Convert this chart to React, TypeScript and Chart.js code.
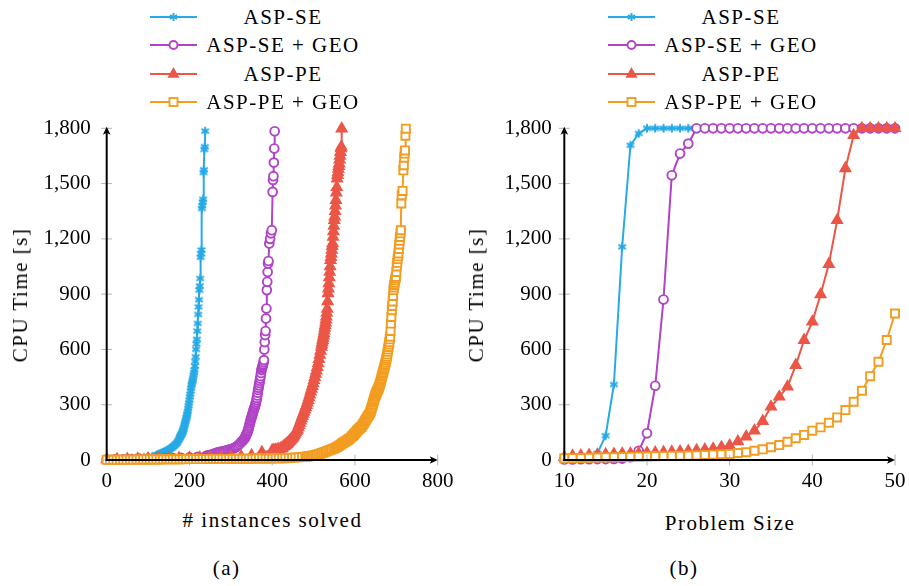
import React, { useEffect, useRef } from 'react';
import { Chart, registerables } from 'chart.js';
Chart.register(...registerables);

// ---------- data ----------
const seriesNames = ['ASP-SE', 'ASP-SE + GEO', 'ASP-PE', 'ASP-PE + GEO'];
const seriesColors = ['#27AAE6', '#B043C6', '#EB5647', '#F29D20'];

const timeTicks = [0, 300, 600, 900, 1200, 1500, 1800];
const rankTicks = [0, 200, 400, 600, 800];
const sizeTicks = [10, 20, 30, 40, 50];

// (a) cactus plot: [instances solved, CPU time]
const cactusSE: [number, number][] = [
  [0, 3], [10, 4], [20, 5], [30, 6], [40, 7], [50, 8], [60, 9], [70, 10], [80, 12], [90, 14], [100, 17], [110, 20],
  [120, 26], [122, 27], [124, 29], [126, 30], [128, 32], [130, 34], [132, 36], [134, 38], [136, 40], [138, 42], [140, 44],
  [142, 47], [144, 49], [146, 51], [148, 54], [150, 56], [152, 59], [154, 62], [156, 65], [158, 68], [160, 72], [162, 76],
  [164, 80], [166, 84], [168, 88], [170, 94], [172, 101], [174, 109], [176, 118], [177, 123], [178, 128], [179, 132],
  [180, 137], [181, 141], [182, 146], [183, 151], [184, 156], [185, 163], [186, 170], [187, 179], [188, 188], [189, 196],
  [190, 205], [191, 214], [192, 224], [193, 233], [194, 243], [195, 253], [196, 265], [197, 280], [198, 295], [199, 310],
  [200, 325], [201, 343], [202, 357], [203, 375], [204, 390], [205, 405], [206, 415], [207, 425], [208, 434], [209, 447],
  [210, 460], [211, 474], [212, 488], [213, 510], [214, 535], [215, 560], [216, 600], [217, 630], [218, 655], [219, 700],
  [220, 741], [221, 790], [222, 831], [223, 870], [224, 922], [225, 945], [226, 985], [227, 1100], [228, 1120],
  [229, 1140], [230, 1365], [231, 1380], [232, 1400], [233, 1415], [234, 1560], [235, 1575], [236, 1685], [237, 1700],
  [238, 1785],
];
const cactusSEGeo: [number, number][] = [
  [0, 2], [20, 3], [40, 4], [60, 5], [80, 6], [100, 7], [120, 8], [140, 9], [160, 10], [180, 12], [200, 14], [220, 17],
  [240, 22], [244, 24], [248, 26], [252, 28], [256, 31], [260, 35], [264, 38], [268, 41], [272, 43], [276, 45], [280, 46],
  [284, 48], [288, 51], [292, 54], [296, 56], [300, 58], [303, 60], [306, 63], [309, 66], [312, 70], [315, 75], [318, 80],
  [321, 87], [324, 95], [327, 101], [330, 108], [331, 111], [332, 114], [333, 117], [334, 120], [335, 125], [336, 130],
  [337, 135], [338, 140], [339, 145], [340, 150], [341, 156], [342, 163], [343, 171], [344, 180], [345, 190], [346, 199],
  [347, 208], [348, 216], [349, 224], [350, 232], [351, 238], [352, 245], [353, 254], [354, 262], [355, 270], [356, 278],
  [357, 284], [358, 289], [359, 297], [360, 305], [361, 315], [362, 325], [363, 337], [364, 350], [365, 365], [366, 380],
  [367, 392], [368, 405], [369, 418], [370, 430], [371, 442], [372, 455], [373, 472], [374, 488], [375, 497], [376, 505],
  [377, 512], [378, 520], [379, 530], [380, 542], [381, 600], [382, 640], [383, 678], [384, 700], [385, 768], [386, 822],
  [387, 922], [388, 967], [389, 1020], [390, 1066], [391, 1080], [393, 1175], [395, 1200], [397, 1230], [399, 1247],
  [401, 1455], [402, 1520], [403, 1540], [404, 1614], [405, 1690], [406, 1784],
];
const cactusPE: [number, number][] = [
  [0, 3], [25, 4], [50, 5], [75, 6], [100, 7], [125, 8], [150, 9], [175, 10], [200, 11], [225, 12], [250, 13], [275, 15],
  [300, 17], [325, 20], [350, 25], [375, 42], [400, 52], [404, 54], [408, 55], [412, 57], [416, 59], [420, 61], [423, 63],
  [425, 67], [427, 72], [429, 75], [431, 78], [433, 82], [435, 86], [437, 90], [439, 95], [441, 100], [443, 105],
  [445, 110], [447, 115], [449, 120], [451, 126], [453, 133], [455, 141], [457, 149], [459, 157], [461, 165], [463, 177],
  [465, 189], [467, 201], [469, 213], [471, 226], [473, 238], [475, 250], [477, 261], [479, 273], [481, 285], [483, 298],
  [485, 311], [487, 325], [489, 340], [491, 355], [493, 370], [495, 385], [497, 400], [499, 416], [501, 433], [503, 450],
  [505, 467], [507, 485], [509, 504], [511, 524], [513, 547], [515, 570], [517, 592], [519, 614], [520, 626], [521, 638],
  [522, 650], [523, 662], [524, 675], [525, 687], [526, 701], [527, 716], [528, 730], [529, 745], [530, 761], [531, 777],
  [532, 798], [533, 820], [534, 860], [535, 904], [536, 930], [537, 958], [538, 990], [539, 1020], [540, 1050],
  [541, 1084], [542, 1100], [543, 1120], [544, 1140], [545, 1160], [546, 1175], [547, 1210], [548, 1240], [549, 1270],
  [550, 1301], [551, 1320], [552, 1350], [553, 1380], [554, 1410], [555, 1450], [556, 1480], [557, 1527], [558, 1545],
  [559, 1560], [560, 1580], [561, 1595], [562, 1608], [563, 1630], [564, 1650], [565, 1670], [566, 1690], [567, 1700],
  [568, 1798],
];
const cactusPEGeo: [number, number][] = [
  [0, 1], [8, 1], [16, 1], [24, 1], [32, 2], [40, 2], [48, 2], [56, 2], [64, 2], [72, 2], [80, 3], [88, 3], [96, 3],
  [104, 3], [112, 3], [120, 3], [128, 3], [136, 4], [144, 4], [152, 4], [160, 4], [168, 4], [176, 4], [184, 4], [192, 5],
  [200, 5], [208, 5], [216, 5], [224, 5], [232, 5], [240, 5], [248, 6], [256, 6], [264, 6], [272, 6], [280, 6], [288, 6],
  [296, 6], [304, 7], [312, 7], [320, 7], [328, 7], [336, 7], [344, 7], [352, 7], [360, 8], [368, 8], [376, 8], [384, 8],
  [392, 8], [400, 8], [408, 9], [416, 9], [424, 10], [432, 10], [440, 11], [448, 12], [456, 13], [464, 15], [472, 16],
  [480, 18], [484, 19], [488, 20], [492, 21], [496, 23], [500, 24], [504, 26], [508, 28], [512, 31], [516, 34], [520, 38],
  [524, 41], [528, 44], [532, 48], [536, 52], [540, 55], [544, 58], [548, 61], [552, 65], [556, 69], [559, 73], [562, 78],
  [565, 82], [568, 88], [571, 92], [574, 96], [577, 100], [580, 105], [583, 110], [586, 114], [589, 120], [592, 126],
  [594, 130], [596, 135], [598, 140], [600, 145], [602, 150], [604, 156], [606, 161], [608, 166], [610, 170], [612, 174],
  [614, 178], [616, 181], [618, 188], [620, 195], [622, 202], [624, 210], [626, 217], [628, 225], [630, 232], [632, 240],
  [634, 246], [636, 253], [637, 259], [638, 266], [639, 273], [640, 280], [641, 287], [642, 295], [643, 302], [644, 310],
  [645, 318], [646, 326], [647, 334], [648, 343], [649, 348], [650, 354], [651, 360], [652, 365], [653, 370], [654, 375],
  [655, 380], [656, 385], [657, 391], [658, 397], [659, 403], [660, 410], [661, 417], [662, 425], [663, 434], [664, 443],
  [665, 452], [666, 460], [667, 468], [668, 477], [669, 485], [670, 494], [671, 502], [672, 511], [673, 520], [674, 530],
  [675, 540], [676, 550], [677, 560], [678, 573], [679, 587], [680, 600], [681, 613], [682, 627], [683, 640], [684, 655],
  [685, 669], [686, 700], [687, 740], [688, 776], [689, 813], [690, 836], [691, 860], [692, 890], [693, 922], [694, 936],
  [695, 950], [696, 962], [697, 975], [698, 985], [699, 994], [700, 1020], [701, 1050], [702, 1070], [703, 1090],
  [704, 1105], [705, 1121], [706, 1145], [707, 1170], [708, 1190], [709, 1210], [710, 1230], [711, 1247], [712, 1392],
  [713, 1437], [715, 1460], [717, 1572], [718, 1600], [719, 1640], [720, 1663], [721, 1680], [722, 1760], [723, 1798],
];

// (b) CPU time per problem size
const problemSizes = [10, 11, 12, 13, 14, 15, 16, 17, 18, 19, 20, 21, 22, 23, 24, 25, 26, 27, 28, 29, 30,
  31, 32, 33, 34, 35, 36, 37, 38, 39, 40, 41, 42, 43, 44, 45, 46, 47, 48, 49, 50];
const sizeSE = [8, 10, 12, 15, 36, 132, 410, 1157, 1708, 1772, 1800, 1800, 1800, 1800, 1800, 1800, 1800, 1800, 1800,
  1800, 1800, 1800, 1800, 1800, 1800, 1800, 1800, 1800, 1800, 1800, 1800, 1800, 1800, 1800, 1800, 1800, 1800, 1800,
  1800, 1800, 1800];
const sizeSEGeo = [3, 3, 4, 4, 5, 5, 6, 8, 15, 50, 145, 403, 871, 1545, 1663, 1717, 1800, 1800, 1800, 1800, 1800, 1800,
  1800, 1800, 1800, 1800, 1800, 1800, 1800, 1800, 1800, 1800, 1800, 1800, 1800, 1800, 1800, 1800, 1800, 1800, 1800];
const sizePE = [15, 22, 24, 26, 28, 30, 32, 34, 35, 36, 38, 40, 42, 44, 46, 48, 52, 56, 61, 69, 78, 100, 127, 159, 211,
  289, 343, 398, 515, 650, 750, 898, 1063, 1301, 1582, 1762, 1800, 1800, 1800, 1800, 1800];
const sizePEGeo = [9, 10, 11, 12, 13, 14, 15, 16, 17, 18, 19, 20, 21, 22, 23, 24, 25, 27, 29, 31, 33, 38, 42, 50, 58,
  69, 81, 99, 118, 136, 159, 177, 202, 231, 271, 316, 376, 455, 533, 651, 795];

// ---------- styling ----------
const SERIF = "'Liberation Serif', 'DejaVu Serif', serif";
const TEXT_SPACING = '1.5px';

function makeAsterisk(color: string): HTMLCanvasElement {
  const c = document.createElement('canvas');
  c.width = 12;
  c.height = 12;
  const ctx = c.getContext('2d')!;
  ctx.strokeStyle = color;
  ctx.lineWidth = 2;
  const cx = 6, cy = 6, r = 4.3;
  [90, 30, 150].forEach((deg) => {
    const a = (deg * Math.PI) / 180;
    ctx.beginPath();
    ctx.moveTo(cx - r * Math.cos(a), cy - r * Math.sin(a));
    ctx.lineTo(cx + r * Math.cos(a), cy + r * Math.sin(a));
    ctx.stroke();
  });
  return c;
}

function pointStyles() {
  return [
    { pointStyle: makeAsterisk(seriesColors[0]) as any, pointRadius: 4, pointBackgroundColor: seriesColors[0] },
    { pointStyle: 'circle', pointRadius: 4.4, pointBackgroundColor: '#ffffff' },
    { pointStyle: 'triangle', pointRadius: 5.7, pointBackgroundColor: seriesColors[2] },
    { pointStyle: 'rect', pointRadius: 5.7, pointBackgroundColor: '#ffffff' },
  ];
}

type Area = { left: number; top: number; right: number; bottom: number };

function fixAreaPlugin(area: Area, yAxisWidth: number, xAxisHeight: number) {
  return {
    id: 'fixArea',
    afterLayout(chart: any) {
      const ca = chart.chartArea;
      ca.left = area.left;
      ca.top = area.top;
      ca.right = area.right;
      ca.bottom = area.bottom;
      ca.width = area.right - area.left;
      ca.height = area.bottom - area.top;
      const x = chart.scales.x;
      const y = chart.scales.y;
      x.left = area.left;
      x.right = area.right;
      x.width = ca.width;
      x.top = area.bottom;
      x.bottom = area.bottom + xAxisHeight;
      x.height = xAxisHeight;
      y.left = area.left - yAxisWidth;
      y.right = area.left;
      y.width = yAxisWidth;
      y.top = area.top;
      y.bottom = area.bottom;
      y.height = ca.height;
      x.configure();
      y.configure();
    },
  };
}

const axesPlugin = {
  id: 'axesDeco',
  afterDatasetsDraw(chart: any) {
    const { ctx, chartArea: a, scales } = chart;
    const x = scales.x, y = scales.y;
    ctx.save();
    ctx.strokeStyle = '#b4b4b4';
    ctx.lineWidth = 1;
    x.ticks.forEach((t: any) => {
      const px = x.getPixelForValue(t.value);
      ctx.beginPath();
      ctx.moveTo(px, a.bottom - 5.5);
      ctx.lineTo(px, a.bottom + 5.5);
      ctx.stroke();
    });
    y.ticks.forEach((t: any) => {
      const py = y.getPixelForValue(t.value);
      ctx.beginPath();
      ctx.moveTo(a.left - 5.5, py);
      ctx.lineTo(a.left + 5.5, py);
      ctx.stroke();
    });
    ctx.strokeStyle = '#000';
    ctx.fillStyle = '#000';
    ctx.lineWidth = 2;
    ctx.beginPath();
    ctx.moveTo(a.left, a.bottom + 1);
    ctx.lineTo(a.left, a.top + 4);
    ctx.stroke();
    const ty = a.top - 1.5;
    ctx.beginPath();
    ctx.moveTo(a.left, ty);
    ctx.lineTo(a.left - 3.8, ty + 8);
    ctx.lineTo(a.left, ty + 6);
    ctx.lineTo(a.left + 3.8, ty + 8);
    ctx.closePath();
    ctx.fill();
    ctx.beginPath();
    ctx.moveTo(a.left - 1, a.bottom);
    ctx.lineTo(a.right - 4, a.bottom);
    ctx.stroke();
    const tx = a.right;
    ctx.beginPath();
    ctx.moveTo(tx, a.bottom);
    ctx.lineTo(tx - 8, a.bottom - 3.8);
    ctx.lineTo(tx - 6, a.bottom);
    ctx.lineTo(tx - 8, a.bottom + 3.8);
    ctx.closePath();
    ctx.fill();
    ctx.restore();
  },
};

function buildChart(
  canvas: HTMLCanvasElement,
  datasets: any[],
  xMin: number,
  xMax: number,
  xTicks: number[],
  area: Area,
  yAxisWidth: number,
  yPad: number,
) {
  const tickFont = { family: SERIF, size: 21 };
  return new Chart(canvas, {
    type: 'line',
    data: { datasets },
    options: {
      responsive: false,
      animation: false,
      devicePixelRatio: 1,
      layout: { autoPadding: false, padding: 0 },
      plugins: { legend: { display: false }, tooltip: { enabled: false } },
      scales: {
        x: {
          type: 'linear',
          min: xMin,
          max: xMax,
          afterBuildTicks: (s: any) => { s.ticks = xTicks.map((v) => ({ value: v })); },
          grid: { display: false, drawTicks: false },
          border: { display: false },
          ticks: { font: tickFont, color: '#000', padding: 9, maxRotation: 0, autoSkip: false,
            callback: (v: any) => String(v) },
        },
        y: {
          type: 'linear',
          min: 0,
          max: 1800,
          afterBuildTicks: (s: any) => { s.ticks = timeTicks.map((v) => ({ value: v })); },
          grid: { display: false, drawTicks: false },
          border: { display: false },
          ticks: { font: tickFont, color: '#000', padding: yPad, autoSkip: false,
            callback: (v: any) => Number(v).toLocaleString('en-US') },
        },
      },
    } as any,
    plugins: [fixAreaPlugin(area, yAxisWidth, 40), axesPlugin],
  });
}

function makeDatasets(series: { x: number; y: number }[][]) {
  const ps = pointStyles();
  return series.map((data, i) => ({
    label: seriesNames[i],
    data,
    borderColor: seriesColors[i],
    backgroundColor: seriesColors[i],
    borderWidth: 2,
    pointBorderColor: seriesColors[i],
    pointBorderWidth: 1.9,
    tension: 0,
    clip: false,
    order: 4 - i,
    ...ps[i],
  }));
}

// ---------- components ----------
const legendRowsY = [17, 45, 74, 102];

function LegendIcon({ index }: { index: number }) {
  const c = seriesColors[index];
  let mark: any = null;
  if (index === 0) {
    mark = (
      <g stroke={c} strokeWidth={1.9}>
        <line x1={23.5} y1={3} x2={23.5} y2={11} />
        <line x1={20} y1={5} x2={27} y2={9} />
        <line x1={20} y1={9} x2={27} y2={5} />
      </g>
    );
  } else if (index === 1) {
    mark = <circle cx={23.5} cy={7} r={4} fill="#fff" stroke={c} strokeWidth={1.9} />;
  } else if (index === 2) {
    mark = <polygon points="23.5,1.5 28.3,10 18.7,10" fill={c} stroke={c} strokeWidth={1.4} />;
  } else {
    mark = <rect x={19.5} y={3} width={8} height={8} fill="#fff" stroke={c} strokeWidth={1.9} />;
  }
  return (
    <svg width={47} height={14} style={{ display: 'block' }}>
      <line x1={0} y1={7} x2={47} y2={7} stroke={c} strokeWidth={2} />
      {mark}
    </svg>
  );
}

function Legend({ iconX, textCx }: { iconX: number; textCx: number }) {
  return (
    <>
      {seriesNames.map((name, i) => (
        <React.Fragment key={name}>
          <div style={{ position: 'absolute', left: iconX, top: legendRowsY[i] - 7 }}>
            <LegendIcon index={i} />
          </div>
          <Label x={textCx} y={legendRowsY[i]} text={name} />
        </React.Fragment>
      ))}
    </>
  );
}

function Label({ x, y, text, rotate }: { x: number; y: number; text: string; rotate?: boolean }) {
  return (
    <div
      style={{
        position: 'absolute',
        left: x,
        top: y,
        transform: `translate(-50%, -50%)${rotate ? ' rotate(-90deg)' : ''}`,
        whiteSpace: 'nowrap',
        fontFamily: SERIF,
        fontSize: 21,
        lineHeight: '24px',
        letterSpacing: TEXT_SPACING,
        color: '#000',
      }}
    >
      {text}
    </div>
  );
}

export default function App() {
  const refA = useRef<HTMLCanvasElement>(null);
  const refB = useRef<HTMLCanvasElement>(null);

  useEffect(() => {
    const toXY = (arr: [number, number][]) => arr.map(([x, y]) => ({ x, y }));
    const bySize = (vals: number[]) => problemSizes.map((s, i) => ({ x: s, y: vals[i] }));
    const chartA = buildChart(
      refA.current!,
      makeDatasets([toXY(cactusSE), toXY(cactusSEGeo), toXY(cactusPE), toXY(cactusPEGeo)]),
      0, 800, rankTicks,
      { left: 106.7, top: 18.3, right: 437.7, bottom: 350 },
      106.7, 16,
    );
    const chartB = buildChart(
      refB.current!,
      makeDatasets([bySize(sizeSE), bySize(sizeSEGeo), bySize(sizePE), bySize(sizePEGeo)]),
      10, 50, sizeTicks,
      { left: 109.3, top: 18.3, right: 440, bottom: 350 },
      109.3, 12.5,
    );
    return () => {
      chartA.destroy();
      chartB.destroy();
    };
  }, []);

  return (
    <div style={{ position: 'absolute', left: 0, top: 0, width: 909, height: 586, background: '#fff', overflow: 'hidden' }}>
      <canvas ref={refA} width={455} height={390} style={{ position: 'absolute', left: 0, top: 110, width: 455, height: 390 }} />
      <canvas ref={refB} width={454} height={390} style={{ position: 'absolute', left: 455, top: 110, width: 454, height: 390 }} />

      <Legend iconX={150} textCx={283} />
      <Legend iconX={608} textCx={741} />

      <Label x={20} y={295} text="CPU Time [s]" rotate />
      <Label x={475.7} y={295} text="CPU Time [s]" rotate />
      <Label x={272.5} y={520} text="# instances solved" />
      <Label x={730} y={522.7} text="Problem Size" />
      <Label x={226.7} y={568} text="(a)" />
      <Label x={684} y={568} text="(b)" />
    </div>
  );
}
